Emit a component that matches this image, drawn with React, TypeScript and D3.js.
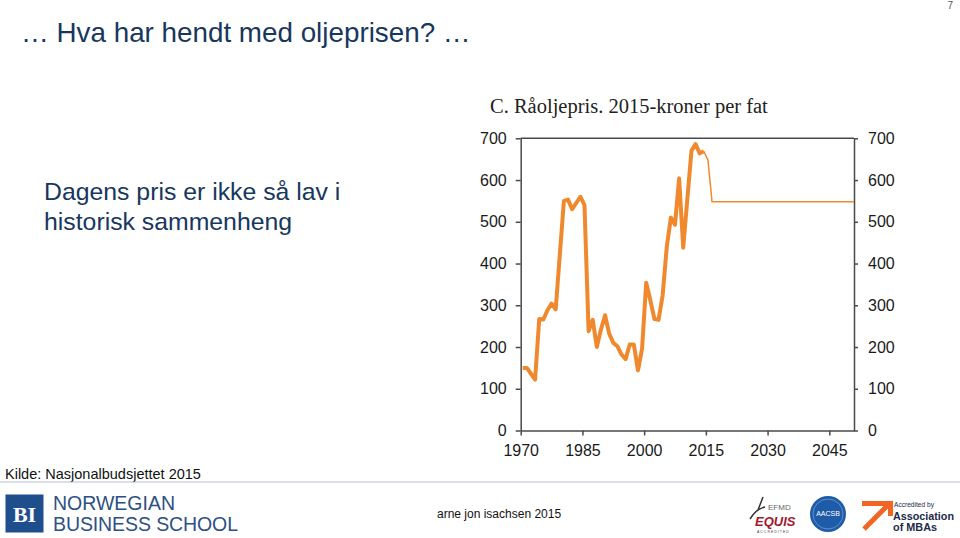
import { useRef, useEffect } from 'react';
import * as d3 from 'd3';

// historical crude oil price, 2015-kroner per barrel
const years = [
  1970, 1971, 1972, 1973, 1974, 1975, 1976, 1977, 1978, 1979,
  1980, 1981, 1982, 1983, 1984, 1985, 1986, 1987, 1988, 1989,
  1990, 1991, 1992, 1993, 1994, 1995, 1996, 1997, 1998, 1999,
  2000, 2001, 2002, 2003, 2004, 2005, 2006, 2007, 2008, 2009,
  2010, 2011, 2012, 2013, 2014,
];
const oilPrice = [
  150, 150, 136, 122, 267, 266, 288, 304, 290, 420,
  550, 553, 530, 545, 560, 540, 238, 265, 200, 242,
  276, 232, 210, 202, 182, 171, 206, 206, 144, 196,
  354, 312, 267, 265, 324, 440, 510, 493, 604, 438,
  555, 670, 686, 664, 669,
];

// budget assumption (thin line)
const projYears = [2014, 2015, 2016, 2050];
const projPrice = [669, 648, 548, 548];

const xTicks = [1970, 1985, 2000, 2015, 2030, 2045];
const yTicks = [0, 100, 200, 300, 400, 500, 600, 700];

const chartTitle = 'C.  Råoljepris. 2015-kroner per fat';
const slideTitle = '… Hva har hendt med oljeprisen? …';
const bodyLines = ['Dagens pris er ikke så lav i', 'historisk sammenheng'];
const sourceText = 'Kilde: Nasjonalbudsjettet 2015';

const plot = { left: 520.7, right: 854, top: 138.3, bottom: 430.5 };
const orange = '#F0892D';
const axisColor = '#4a4a4a';
const navy = '#17375E';
const sans = '"Liberation Sans", Arial, sans-serif';

export default function App() {
  const svgRef = useRef<SVGSVGElement>(null);

  useEffect(() => {
    const svg = d3.select(svgRef.current);
    svg.selectAll('*').remove();

    // ---- slide text ----
    svg.append('text')
      .attr('x', 21).attr('y', 42)
      .attr('font-family', sans).attr('font-size', 27.8)
      .attr('fill', navy)
      .text(slideTitle);

    svg.append('text')
      .attr('x', 953).attr('y', 9)
      .attr('text-anchor', 'end')
      .attr('font-family', sans).attr('font-size', 10)
      .attr('fill', '#555')
      .text('7');

    bodyLines.forEach((l, i) => {
      svg.append('text')
        .attr('x', 44).attr('y', 200 + i * 30)
        .attr('font-family', sans).attr('font-size', 24.8)
        .attr('fill', navy)
        .text(l);
    });

    // ---- chart ----
    const x = d3.scaleLinear().domain([1970, 2051]).range([plot.left, plot.right]);
    const y = d3.scaleLinear().domain([0, 700]).range([plot.bottom, plot.top]);
    // values sit in the middle of each year
    const xm = (yr: number) => x(yr + 0.5);

    svg.append('text')
      .attr('x', 490).attr('y', 113)
      .attr('font-family', '"Liberation Serif", "Times New Roman", serif')
      .attr('font-size', 20.5)
      .attr('fill', '#222')
      .text(chartTitle);

    const g = svg.append('g');

    const left = g.append('g')
      .attr('transform', `translate(${plot.left},0)`)
      .call(d3.axisLeft(y).tickValues(yTicks).tickSize(5).tickPadding(9).tickSizeOuter(0));
    const right = g.append('g')
      .attr('transform', `translate(${plot.right},0)`)
      .call(d3.axisRight(y).tickValues(yTicks).tickSize(4).tickPadding(10).tickSizeOuter(0));
    const bottom = g.append('g')
      .attr('transform', `translate(0,${plot.bottom})`)
      .call(d3.axisBottom(x).tickValues(xTicks).tickFormat(d3.format('d')).tickSize(5).tickPadding(9).tickSizeOuter(0));

    g.append('line')
      .attr('x1', plot.left).attr('x2', plot.right)
      .attr('y1', plot.top).attr('y2', plot.top)
      .attr('stroke', axisColor).attr('stroke-width', 1.5);

    [left, right, bottom].forEach((a) => {
      a.selectAll('.domain, .tick line').attr('stroke', axisColor).attr('stroke-width', 1.5);
      a.selectAll('text')
        .attr('fill', '#1a1a1a')
        .attr('font-family', sans)
        .attr('font-size', 16);
    });

    const line = d3.line<number>()
      .x((_, i) => xm(years[i]))
      .y((d) => y(d));

    g.append('path')
      .datum(oilPrice)
      .attr('fill', 'none')
      .attr('stroke', orange)
      .attr('stroke-width', 4)
      .attr('stroke-linejoin', 'round')
      .attr('d', line);

    const projLine = d3.line<number>()
      .x((_, i) => (i === projYears.length - 1 ? x(projYears[i] + 1) : xm(projYears[i])))
      .y((d) => y(d));

    g.append('path')
      .datum(projPrice)
      .attr('fill', 'none')
      .attr('stroke', orange)
      .attr('stroke-width', 1.5)
      .attr('d', projLine);

    // ---- footer ----
    svg.append('text')
      .attr('x', 5).attr('y', 479)
      .attr('font-family', sans).attr('font-size', 14.5)
      .attr('fill', '#111')
      .text(sourceText);

    svg.append('line')
      .attr('x1', 0).attr('x2', 960)
      .attr('y1', 482).attr('y2', 482)
      .attr('stroke', '#b4c0cc').attr('stroke-width', 1);

    svg.append('rect')
      .attr('x', 5.5).attr('y', 494.5).attr('width', 38).attr('height', 38)
      .attr('fill', '#1F4E8C');
    svg.append('text')
      .attr('x', 24.5).attr('y', 522)
      .attr('text-anchor', 'middle')
      .attr('font-family', '"Liberation Serif", serif').attr('font-weight', 'bold')
      .attr('font-size', 22).attr('fill', '#fff')
      .text('BI');

    ['NORWEGIAN', 'BUSINESS SCHOOL'].forEach((t, i) => {
      svg.append('text')
        .attr('x', 53).attr('y', 510 + i * 21)
        .attr('font-family', sans).attr('font-weight', 300)
        .attr('font-size', 19.5).attr('fill', '#2D5084')
        .attr('textLength', i === 0 ? 122 : 185)
        .text(t);
    });

    svg.append('text')
      .attr('x', 437).attr('y', 518)
      .attr('font-family', sans).attr('font-size', 12)
      .attr('fill', '#111')
      .text('arne jon isachsen 2015');

    // EFMD EQUIS
    svg.append('path')
      .attr('d', 'M750,519 Q756,509 765,507 M758,510 L763,497')
      .attr('fill', 'none').attr('stroke', '#333').attr('stroke-width', 1.5);
    svg.append('text')
      .attr('x', 768).attr('y', 510)
      .attr('font-family', sans).attr('font-size', 8).attr('fill', '#666')
      .text('EFMD');
    svg.append('text')
      .attr('x', 755).attr('y', 526)
      .attr('font-family', sans).attr('font-size', 13).attr('font-weight', 'bold')
      .attr('font-style', 'italic').attr('fill', '#A3192E')
      .text('EQUIS');
    svg.append('text')
      .attr('x', 757).attr('y', 532.5)
      .attr('font-family', sans).attr('font-size', 3.5).attr('fill', '#444')
      .attr('letter-spacing', 1)
      .text('ACCREDITED');

    // AACSB
    svg.append('circle')
      .attr('cx', 828).attr('cy', 514).attr('r', 18)
      .attr('fill', '#1E5BA8');
    svg.append('circle')
      .attr('cx', 828).attr('cy', 514).attr('r', 15)
      .attr('fill', 'none').attr('stroke', '#8fb2de').attr('stroke-width', 0.6);
    svg.append('text')
      .attr('x', 828).attr('y', 516)
      .attr('text-anchor', 'middle')
      .attr('font-family', sans).attr('font-size', 7).attr('fill', '#fff')
      .text('AACSB');

    // AMBA
    svg.append('path')
      .attr('d', 'M864,529 L889,504 M862,503.5 L893,503.5 M890.5,502 L890.5,516')
      .attr('fill', 'none').attr('stroke', '#F26522').attr('stroke-width', 5);
    svg.append('text')
      .attr('x', 894).attr('y', 507)
      .attr('font-family', sans).attr('font-size', 7).attr('fill', '#1d2a4a')
      .attr('textLength', 40).attr('lengthAdjust', 'spacingAndGlyphs')
      .text('Accredited by');
    svg.append('text')
      .attr('x', 893).attr('y', 519.5)
      .attr('font-family', sans).attr('font-size', 11.5).attr('font-weight', 'bold')
      .attr('fill', '#1d2a4a')
      .attr('textLength', 61).attr('lengthAdjust', 'spacingAndGlyphs')
      .text('Association');
    svg.append('text')
      .attr('x', 893).attr('y', 531)
      .attr('font-family', sans).attr('font-size', 11.5).attr('font-weight', 'bold')
      .attr('fill', '#1d2a4a')
      .attr('textLength', 44).attr('lengthAdjust', 'spacingAndGlyphs')
      .text('of MBAs');
  }, []);

  return (
    <svg
      ref={svgRef}
      width={960}
      height={538}
      style={{ position: 'absolute', left: 0, top: 0, background: '#fff' }}
    />
  );
}
